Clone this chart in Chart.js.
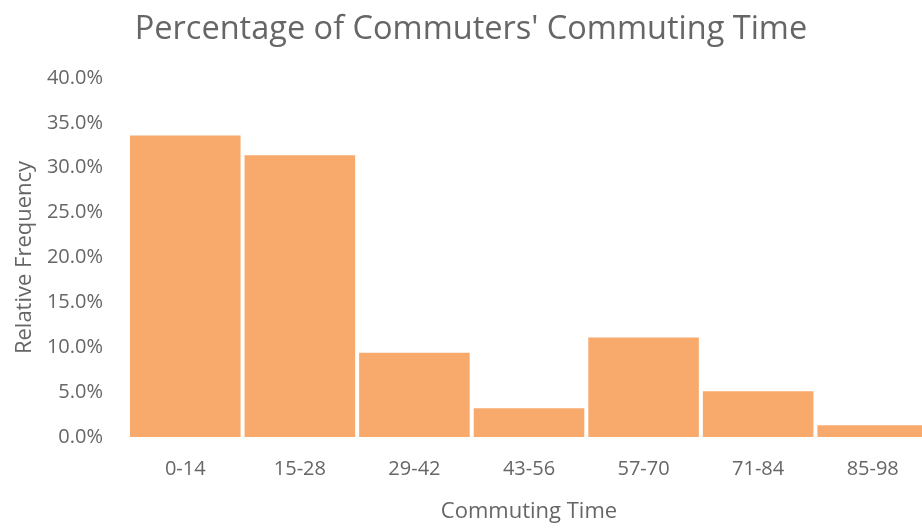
<!DOCTYPE html>
<html>
<head>
<meta charset="utf-8">
<script src="https://cdn.jsdelivr.net/npm/chart.js@4.4.1/dist/chart.umd.min.js"></script>
<style>
  html, body { margin: 0; padding: 0; background: #ffffff; }
  #wrap { width: 922px; height: 529px; overflow: hidden; position: relative; }
  #box { width: 930px; height: 529px; }
</style>
</head>
<body>
<div id="wrap"><div id="box"><canvas id="c"></canvas></div></div>
<script>
// Commuting time bins (minutes) and the share of commuters in each bin (%)
const categories = ['0-14', '15-28', '29-42', '43-56', '57-70', '71-84', '85-98'];
const relativeFrequency = [33.6, 31.4, 9.4, 3.2, 11.1, 5.1, 1.3];
const yTicks = [0, 5, 10, 15, 20, 25, 30, 35, 40];

const textColor = '#666666';
const fontFamily = '"Open Sans", "Noto Sans", sans-serif';

new Chart(document.getElementById('c'), {
  type: 'bar',
  data: {
    labels: categories,
    datasets: [{
      label: 'Relative Frequency',
      data: relativeFrequency,
      backgroundColor: '#f8a96c',
      borderWidth: 0,
      barPercentage: 0.965,
      categoryPercentage: 1.0
    }]
  },
  options: {
    responsive: true,
    maintainAspectRatio: false,
    animation: false,
    layout: { padding: { left: 12, right: 0, top: 10, bottom: 4 } },
    plugins: {
      legend: { display: false },
      tooltip: { enabled: false },
      title: {
        display: true,
        text: "Percentage of Commuters' Commuting Time",
        color: textColor,
        font: { family: fontFamily, size: 32.5, weight: 'normal' },
        padding: { top: 0, bottom: 29 }
      }
    },
    scales: {
      x: {
        grid: { display: false },
        border: { display: false },
        afterFit: (axis) => { axis.height = 88; },
        ticks: { color: textColor, font: { family: fontFamily, size: 20 }, padding: 12 },
        title: {
          display: true,
          text: 'Commuting Time',
          color: textColor,
          font: { family: fontFamily, size: 22 },
          padding: { top: 0, bottom: 0 }
        }
      },
      y: {
        min: 0,
        max: 40,
        afterBuildTicks: (axis) => { axis.ticks = yTicks.map(v => ({ value: v })); },
        afterFit: (axis) => { axis.width = 116; },
        grid: { display: false },
        border: { display: false },
        ticks: {
          color: textColor,
          font: { family: fontFamily, size: 20 },
          padding: 17,
          callback: (v) => v.toFixed(1) + '%'
        },
        title: {
          display: true,
          text: 'Relative Frequency',
          color: textColor,
          font: { family: fontFamily, size: 22 },
          padding: { top: 0, bottom: 0 }
        }
      }
    }
  }
});
</script>
</body>
</html>
